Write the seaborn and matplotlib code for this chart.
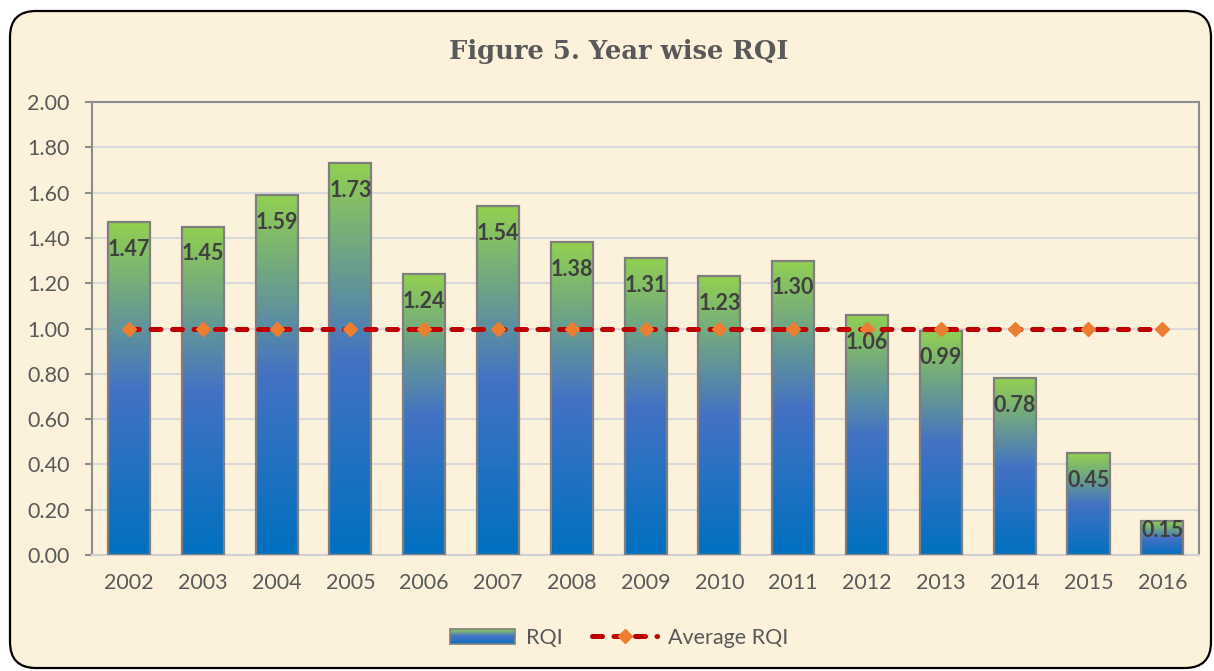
import numpy as np
import pandas as pd
import seaborn as sns
import matplotlib.pyplot as plt
from matplotlib.patches import FancyBboxPatch, Rectangle
from matplotlib.colors import LinearSegmentedColormap
from matplotlib.lines import Line2D
from matplotlib.legend_handler import HandlerBase

# data
years = ['2002', '2003', '2004', '2005', '2006', '2007', '2008', '2009',
         '2010', '2011', '2012', '2013', '2014', '2015', '2016']
rqi = [1.47, 1.45, 1.59, 1.73, 1.24, 1.54, 1.38, 1.31,
       1.23, 1.30, 1.06, 0.99, 0.78, 0.45, 0.15]
avg_rqi = [1.00] * len(years)
y_ticks = [0.0, 0.2, 0.4, 0.6, 0.8, 1.0, 1.2, 1.4, 1.6, 1.8, 2.0]

plt.rcParams['font.family'] = ['Lato', 'DejaVu Sans']
txt_col = '#595959'

grad_cmap = LinearSegmentedColormap.from_list(
    'rqi', [(0.0, '#0070C0'), (0.5, '#4472C4'), (1.0, '#92D050')])

fig = plt.figure(figsize=(12.14, 6.71), dpi=100)
fig.patch.set_facecolor('white')

# rounded cream panel
bg = fig.add_axes([0, 0, 1, 1], zorder=-10)
bg.set_xlim(0, 1214)
bg.set_ylim(671, 0)
bg.axis('off')
bg.add_patch(FancyBboxPatch((10, 11), 1201, 657,
                            boxstyle='round,pad=0,rounding_size=26',
                            facecolor='#FCF1DB', edgecolor='black', lw=1.6))

ax = fig.add_axes([0.0758, 0.1729, 0.912, 0.675], zorder=1)
ax.patch.set_alpha(0)

df = pd.DataFrame({'Year': years, 'RQI': rqi})
sns.barplot(data=df, x='Year', y='RQI', ax=ax, width=0.57, color='#4472C4',
            zorder=3)

grad = np.linspace(0, 1, 256).reshape(-1, 1)
for p in ax.patches:
    x0 = p.get_x()
    w = p.get_width()
    h = p.get_height()
    ax.imshow(grad, cmap=grad_cmap, origin='lower', aspect='auto',
              extent=[x0, x0 + w, 0, h], zorder=2.5)
    p.set_facecolor('none')
    p.set_edgecolor('#7F7F7F')
    p.set_linewidth(1.6)

# data labels inside top of bars
for i, v in enumerate(rqi):
    ax.text(i, max(v - 0.12, 0.11), f'{v:.2f}', ha='center', va='center',
            fontsize=15.5, fontweight='bold', color='#404040', zorder=5)

ax.plot(np.arange(len(years)), avg_rqi, color='#C00000', lw=3.6,
        dashes=(2.0, 2.3), dash_capstyle='round', marker='D', ms=7.5,
        mfc='#ED7D31', mec='#ED7D31', zorder=4)

ax.set_xlim(-0.5, len(years) - 0.5)
ax.set_ylim(0, 2.0)
ax.set_yticks(y_ticks)
ax.set_yticklabels([f'{t:.2f}' for t in y_ticks])
ax.set_xlabel('')
ax.set_ylabel('')
ax.grid(axis='y', color='#D9D9D9', lw=1.5, zorder=0)
ax.set_axisbelow(True)
for s in ['left', 'top', 'right']:
    ax.spines[s].set_color('#8C8C8C')
    ax.spines[s].set_linewidth(1.5)
ax.spines['bottom'].set_color('#D0D0D0')
ax.spines['bottom'].set_linewidth(1.5)
ax.tick_params(axis='y', length=5, width=1.5, color='#8C8C8C', pad=11,
               labelsize=15.5, labelcolor=txt_col)
ax.tick_params(axis='x', length=0, pad=13, labelsize=15.5, labelcolor=txt_col)

fig.text(0.51, 1 - 52 / 671, 'Figure 5. Year wise RQI', ha='center',
         va='center', fontsize=18.5, fontweight='bold', family='DejaVu Serif',
         color=txt_col)


class GradientHandler(HandlerBase):
    def create_artists(self, legend, orig_handle, xdescent, ydescent,
                       width, height, fontsize, trans):
        n = 14
        arts = []
        for k in range(n):
            arts.append(Rectangle((-xdescent, -ydescent + k * height / n),
                                  width, height / n + 0.2,
                                  facecolor=grad_cmap((k + 0.5) / n),
                                  edgecolor='none', transform=trans))
        arts.append(Rectangle((-xdescent, -ydescent), width, height,
                              fill=False, edgecolor='#7F7F7F', lw=1.2,
                              transform=trans))
        return arts


bar_handle = Rectangle((0, 0), 1, 1)
line_handle = Line2D([], [], color='#C00000', lw=3.6, dashes=(2.0, 2.3),
                     dash_capstyle='round', marker='D', ms=7.5,
                     mfc='#ED7D31', mec='#ED7D31')
fig.legend([bar_handle, line_handle], ['RQI', 'Average RQI'],
           handler_map={Rectangle: GradientHandler()},
           loc='center', bbox_to_anchor=(0.51, 1 - 638 / 671), ncol=2,
           frameon=False, fontsize=15.5, labelcolor=txt_col,
           handlelength=3.0, handletextpad=0.5, columnspacing=1.4)

fig.savefig('out.png', dpi=100)
